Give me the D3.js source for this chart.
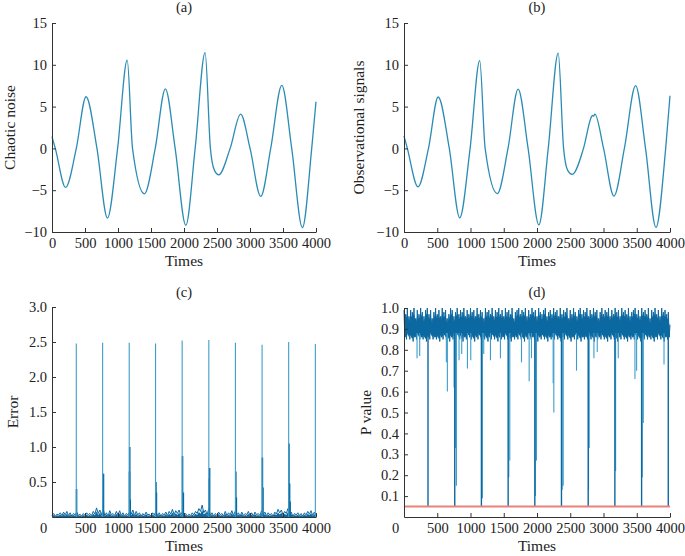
<!DOCTYPE html>
<html>
<head>
<meta charset="utf-8">
<script src="https://cdn.jsdelivr.net/npm/d3@7"></script>
<style>
  body { margin: 0; background: #fff; }
  svg { display: block; font-family: "Liberation Serif", "DejaVu Serif", serif; }
  .axis path, .axis line { stroke: #333; stroke-width: 1; }
  .axis text { font-size: 14.5px; fill: #222; font-family: "Liberation Serif", serif; }
</style>
</head>
<body>
<div id="chart"></div>
<script>
// (a) chaotic noise - extrema and zero crossings
const chaosTime  = [0, 50, 206, 368, 516, 681, 840, 994, 1140, 1220, 1400, 1564, 1718, 1866, 2028, 2169, 2320, 2400, 2460, 2526, 2699, 2858, 3001, 3163, 3314, 3482, 3632, 3794, 3935, 4000];
const chaosValue = [1.4, 0, -4.67, 0, 6.18, 0, -8.33, 0, 10.55, 0, -5.43, 0, 7.13, 0, -9.2, 0, 11.46, 0, -2.6, -3.16, 0, 4.1, 0, -5.75, 0, 7.53, 0, -9.48, 0, 5.58];

// (b) observational signals - same dynamics plus a little noise
const obsTime  = [0, 50, 210, 368, 514, 681, 838, 994, 1139, 1220, 1403, 1564, 1716, 1866, 2028, 2169, 2319, 2400, 2460, 2530, 2699, 2820, 2835, 2850, 2870, 3001, 3157, 3314, 3483, 3632, 3789, 3935, 4000];
const obsValue = [1.5, 0, -4.6, 0, 6.15, 0, -8.3, 0, 10.5, 0, -5.4, 0, 7.1, 0, -9.15, 0, 11.4, 0, -2.6, -3.1, 0, 3.8, 3.95, 3.85, 4.1, 0, -5.7, 0, 7.5, 0, -9.45, 0, 6.3];

// (c) prediction error - background noise every 25 steps
const errStep = 25;
const errBase = [
  0.02, 0.05, 0.01, 0.04, 0.03, 0.06, 0.02, 0.07, 0.03, 0.08,
  0.02, 0.06, 0.01, 0.05, 0.03, 0.07, 0.02, 0.04, 0.01, 0.05,
  0.02, 0.06, 0.03, 0.05, 0.02, 0.08, 0.04, 0.13, 0.05, 0.10,
  0.03, 0.12, 0.02, 0.06, 0.01, 0.09, 0.03, 0.05, 0.02, 0.08,
  0.03, 0.09, 0.02, 0.06, 0.01, 0.05, 0.03, 0.07, 0.04, 0.10,
  0.02, 0.08, 0.03, 0.06, 0.01, 0.05, 0.02, 0.07, 0.03, 0.04,
  0.01, 0.06, 0.03, 0.08, 0.02, 0.06, 0.01, 0.05, 0.03, 0.07,
  0.02, 0.08, 0.04, 0.11, 0.03, 0.09, 0.05, 0.10, 0.03, 0.07,
  0.02, 0.05, 0.01, 0.04, 0.02, 0.06, 0.03, 0.08, 0.05, 0.12,
  0.08, 0.17, 0.06, 0.10, 0.03, 0.12, 0.02, 0.06, 0.01, 0.05,
  0.02, 0.07, 0.03, 0.05, 0.01, 0.08, 0.02, 0.06, 0.03, 0.09,
  0.02, 0.08, 0.03, 0.06, 0.01, 0.07, 0.02, 0.05, 0.03, 0.08,
  0.02, 0.06, 0.01, 0.07, 0.03, 0.05, 0.02, 0.09, 0.03, 0.07,
  0.02, 0.06, 0.03, 0.05, 0.01, 0.07, 0.04, 0.11, 0.06, 0.10,
  0.03, 0.08, 0.05, 0.12, 0.02, 0.07, 0.01, 0.05, 0.03, 0.06,
  0.02, 0.05, 0.01, 0.06, 0.03, 0.08, 0.04, 0.09, 0.02, 0.07,
  0.03
];
const errSpikeTime  = [368, 767, 1170, 1569, 1972, 2376, 2779, 3183, 3586, 3990];
const errSpikeValue = [2.48, 2.49, 2.49, 2.48, 2.52, 2.53, 2.49, 2.46, 2.50, 2.47];
const errAfterTime  = [372, 775, 780, 1174, 1178, 1185, 1575, 1582, 1978, 1990, 2382, 2388, 2785, 2793, 3188, 3196, 3590, 3600, 3608];
const errAfterValue = [0.40, 0.28, 0.62, 0.65, 1.00, 0.25, 0.50, 0.35, 0.87, 0.35, 0.55, 0.70, 0.65, 0.28, 0.85, 0.42, 1.05, 0.48, 0.22];

// (d) P value - upper and lower edge of the dense band every 25 steps
const pStep = 25;
const pTop = [
  0.99, 0.97, 1.00, 0.96, 0.99, 0.98, 1.00, 0.95, 0.99, 0.97,
  1.00, 0.98, 0.96, 0.99, 1.00, 0.97, 0.99, 0.95, 0.98, 1.00,
  0.97, 0.99, 0.96, 1.00, 0.98, 0.99, 0.95, 0.97, 1.00, 0.99,
  0.96, 0.98, 1.00, 0.97, 0.99, 0.98, 1.00, 0.96, 0.99, 0.97,
  1.00, 0.98, 0.99, 0.96, 1.00, 0.97, 0.99, 0.98, 0.95, 1.00,
  0.98, 0.99, 0.97, 1.00, 0.96, 0.99, 0.98, 1.00, 0.97, 0.99,
  0.96, 1.00, 0.98, 0.99, 0.97, 1.00, 0.95, 0.98, 0.99, 1.00,
  0.97, 0.99, 0.98, 1.00, 0.96, 0.99, 0.97, 1.00, 0.98, 0.99,
  0.96, 1.00, 0.98, 0.97, 0.99, 1.00, 0.96, 0.98, 0.99, 0.97,
  1.00, 0.98, 0.99, 0.96, 1.00, 0.97, 0.99, 0.98, 1.00, 0.95,
  0.99, 0.97, 1.00, 0.98, 0.96, 0.99, 1.00, 0.97, 0.99, 0.98,
  1.00, 0.96, 0.99, 0.97, 1.00, 0.98, 0.99, 0.95, 0.98, 1.00,
  0.97, 0.99, 0.98, 1.00, 0.96, 0.99, 0.97, 1.00, 0.98, 0.99,
  0.96, 1.00, 0.98, 0.99, 0.97, 1.00, 0.96, 0.98, 0.99, 1.00,
  0.97, 0.99, 0.96, 1.00, 0.98, 0.99, 0.97, 1.00, 0.95, 0.99,
  0.98, 1.00, 0.97, 0.99, 0.96, 1.00, 0.98, 0.99, 0.97, 0.98,
  0.92
];
const pBottom = [
  0.86, 0.85, 0.87, 0.85, 0.86, 0.84, 0.86, 0.85, 0.87, 0.85,
  0.86, 0.85, 0.86, 0.84, 0.86, 0.85, 0.87, 0.85, 0.86, 0.85,
  0.86, 0.84, 0.86, 0.85, 0.87, 0.85, 0.86, 0.84, 0.86, 0.85,
  0.86, 0.85, 0.87, 0.85, 0.86, 0.84, 0.86, 0.85, 0.87, 0.86,
  0.85, 0.86, 0.84, 0.86, 0.85, 0.87, 0.85, 0.86, 0.85, 0.86,
  0.84, 0.86, 0.85, 0.87, 0.85, 0.86, 0.84, 0.86, 0.85, 0.86,
  0.85, 0.87, 0.85, 0.86, 0.84, 0.86, 0.85, 0.86, 0.85, 0.87,
  0.85, 0.86, 0.84, 0.86, 0.85, 0.87, 0.85, 0.86, 0.85, 0.86,
  0.84, 0.86, 0.85, 0.87, 0.85, 0.86, 0.84, 0.86, 0.85, 0.86,
  0.85, 0.87, 0.85, 0.86, 0.84, 0.86, 0.85, 0.87, 0.85, 0.86,
  0.84, 0.86, 0.85, 0.87, 0.85, 0.86, 0.84, 0.86, 0.85, 0.86,
  0.85, 0.87, 0.85, 0.86, 0.84, 0.86, 0.85, 0.86, 0.85, 0.87,
  0.85, 0.86, 0.84, 0.86, 0.85, 0.87, 0.85, 0.86, 0.84, 0.86,
  0.85, 0.87, 0.85, 0.86, 0.84, 0.86, 0.85, 0.86, 0.85, 0.87,
  0.85, 0.86, 0.84, 0.86, 0.85, 0.87, 0.85, 0.86, 0.85, 0.86,
  0.84, 0.86, 0.85, 0.87, 0.85, 0.86, 0.84, 0.86, 0.85, 0.86,
  0.85
];
const pDipTime  = [361, 763, 1164, 1566, 1967, 2368, 2770, 3171, 3573, 3974];
const pDipValue = [0.05, 0.05, 0.05, 0.05, 0.05, 0.05, 0.05, 0.05, 0.05, 0.05];
const pMinorTime  = [196, 236, 637, 652, 753, 773, 788, 828, 868, 954, 1004, 1179, 1199, 1300, 1450, 1576, 1591, 1767, 1882, 1917, 1977, 1992, 2243, 2253, 2379, 2394, 2594, 2775, 2785, 2856, 2906, 3182, 3222, 3473, 3498, 3583, 3598, 3910];
const pMinorValue = [0.76, 0.77, 0.74, 0.60, 0.62, 0.33, 0.15, 0.75, 0.78, 0.71, 0.75, 0.09, 0.78, 0.75, 0.76, 0.19, 0.27, 0.74, 0.65, 0.76, 0.10, 0.27, 0.64, 0.50, 0.13, 0.15, 0.70, 0.13, 0.33, 0.76, 0.79, 0.22, 0.76, 0.66, 0.70, 0.19, 0.45, 0.73];
const pThreshold = 0.05;

const xTicks = d3.range(0, 4001, 500);
const abTicks = [-10, -5, 0, 5, 10, 15];
const cTicks = [0.5, 1.0, 1.5, 2.0, 2.5, 3.0];
const dTicks = [0.1, 0.2, 0.3, 0.4, 0.5, 0.6, 0.7, 0.8, 0.9, 1.0];

const W = 685, H = 556;
const svg = d3.select('#chart').append('svg').attr('width', W).attr('height', H);

const curveColor = '#2a8cb4';
const noiseColor = '#0c68a0';
const lightColor = '#3c9dcb';

// panel frame helper
function panel(o) {
  const x = d3.scaleLinear().domain([0, 4000]).range([o.left, o.right]);
  const y = d3.scaleLinear().domain(o.yDomain).range([o.bottom, o.top]);
  const g = svg.append('g');

  const xa = g.append('g').attr('class', 'axis')
    .attr('transform', `translate(0,${o.bottom})`)
    .call(d3.axisBottom(x).tickValues(xTicks).tickFormat(d3.format('d'))
      .tickSizeInner(-4).tickSizeOuter(0).tickPadding(6));
  if (o.shiftZero) {
    xa.selectAll('.tick text').filter(d => d === 0).attr('dx', -9);
  }
  g.append('g').attr('class', 'axis')
    .attr('transform', `translate(${o.left},0)`)
    .call(d3.axisLeft(y).tickValues(o.yTicks).tickFormat(o.yFormat)
      .tickSizeInner(-4).tickSizeOuter(0).tickPadding(5));
  g.selectAll('.axis .domain').attr('stroke', '#333');

  g.append('text')
    .attr('x', (o.left + o.right) / 2).attr('y', o.titleY)
    .attr('text-anchor', 'middle').attr('font-size', 14.5).attr('fill', '#222')
    .text(o.title);
  g.append('text')
    .attr('x', (o.left + o.right) / 2).attr('y', o.bottom + 34)
    .attr('text-anchor', 'middle').attr('font-size', 15.5).attr('fill', '#222')
    .text('Times');
  g.append('text')
    .attr('transform', `translate(${o.ylabelX},${(o.top + o.bottom) / 2}) rotate(-90)`)
    .attr('text-anchor', 'middle').attr('font-size', 15.5).attr('fill', '#222')
    .text(o.ylabel);

  const plot = g.insert('g', ':first-child');
  return { x, y, g: plot };
}

// (a)
{
  const p = panel({ left: 52, right: 316, top: 23, bottom: 232, yDomain: [-10, 15],
    yTicks: abTicks, yFormat: d3.format('d'), title: '(a)', titleY: 12,
    ylabel: 'Chaotic noise', ylabelX: 15 });
  const line = d3.line().x((d, i) => p.x(chaosTime[i])).y(d => p.y(d)).curve(d3.curveMonotoneX);
  p.g.append('path').attr('d', line(chaosValue))
    .attr('fill', 'none').attr('stroke', curveColor).attr('stroke-width', 1.3);
}

// (b)
{
  const p = panel({ left: 404, right: 670, top: 23, bottom: 232, yDomain: [-10, 15],
    yTicks: abTicks, yFormat: d3.format('d'), title: '(b)', titleY: 12,
    ylabel: 'Observational signals', ylabelX: 364 });
  const line = d3.line().x((d, i) => p.x(obsTime[i])).y(d => p.y(d)).curve(d3.curveMonotoneX);
  p.g.append('path').attr('d', line(obsValue))
    .attr('fill', 'none').attr('stroke', curveColor).attr('stroke-width', 1.3);
}

// (c)
{
  const p = panel({ left: 52, right: 316, top: 307, bottom: 517, yDomain: [0, 3],
    yTicks: cTicks, yFormat: d3.format('.1f'), title: '(c)', titleY: 297,
    ylabel: 'Error', ylabelX: 18, shiftZero: true });
  const area = d3.area().x((d, i) => p.x(i * errStep)).y0(p.y(0)).y1(d => p.y(d * 0.6));
  p.g.append('path').attr('d', area(errBase)).attr('fill', noiseColor);
  const line = d3.line().x((d, i) => p.x(i * errStep)).y(d => p.y(d));
  p.g.append('path').attr('d', line(errBase))
    .attr('fill', 'none').attr('stroke', noiseColor).attr('stroke-width', 1);
  p.g.selectAll('line.after').data(errAfterValue).join('line').attr('class', 'after')
    .attr('x1', (d, i) => p.x(errAfterTime[i])).attr('x2', (d, i) => p.x(errAfterTime[i]))
    .attr('y1', p.y(0)).attr('y2', d => p.y(d))
    .attr('stroke', noiseColor).attr('stroke-width', 1.6);
  p.g.selectAll('line.spike').data(errSpikeValue).join('line').attr('class', 'spike')
    .attr('x1', (d, i) => p.x(errSpikeTime[i])).attr('x2', (d, i) => p.x(errSpikeTime[i]))
    .attr('y1', p.y(0)).attr('y2', d => p.y(d))
    .attr('stroke', lightColor).attr('stroke-width', 1.1);
}

// (d)
{
  const p = panel({ left: 404, right: 670, top: 308, bottom: 517, yDomain: [0, 1],
    yTicks: dTicks, yFormat: d3.format('.1f'), title: '(d)', titleY: 297,
    ylabel: 'P value', ylabelX: 371, shiftZero: true });
  // solid core of the band
  const core = d3.area().x((d, i) => p.x(i * pStep))
    .y0((d, i) => p.y(pBottom[i] + 0.01)).y1(d => p.y(d - 0.025));
  p.g.append('path').attr('d', core(pTop)).attr('fill', noiseColor);
  // zigzag between upper and lower edges of the band
  const pts = [];
  pTop.forEach((v, i) => {
    pts.push([i * pStep, v]);
    if (i < pBottom.length - 1) pts.push([i * pStep + pStep / 2, pBottom[i]]);
  });
  const line = d3.line().x(d => p.x(d[0])).y(d => p.y(d[1]));
  p.g.append('path').attr('d', line(pts))
    .attr('fill', 'none').attr('stroke', noiseColor).attr('stroke-width', 1);
  p.g.selectAll('line.minor').data(pMinorValue).join('line').attr('class', 'minor')
    .attr('x1', (d, i) => p.x(pMinorTime[i])).attr('x2', (d, i) => p.x(pMinorTime[i]))
    .attr('y1', p.y(0.88)).attr('y2', d => p.y(d))
    .attr('stroke', lightColor).attr('stroke-width', 1.1);
  p.g.selectAll('line.dip').data(pDipValue).join('line').attr('class', 'dip')
    .attr('x1', (d, i) => p.x(pDipTime[i])).attr('x2', (d, i) => p.x(pDipTime[i]))
    .attr('y1', p.y(0.88)).attr('y2', d => p.y(d))
    .attr('stroke', noiseColor).attr('stroke-width', 1.4);
  p.g.append('line')
    .attr('x1', p.x(0)).attr('x2', p.x(4000))
    .attr('y1', p.y(pThreshold)).attr('y2', p.y(pThreshold))
    .attr('stroke', '#e8827a').attr('stroke-width', 2);
}
</script>
</body>
</html>
